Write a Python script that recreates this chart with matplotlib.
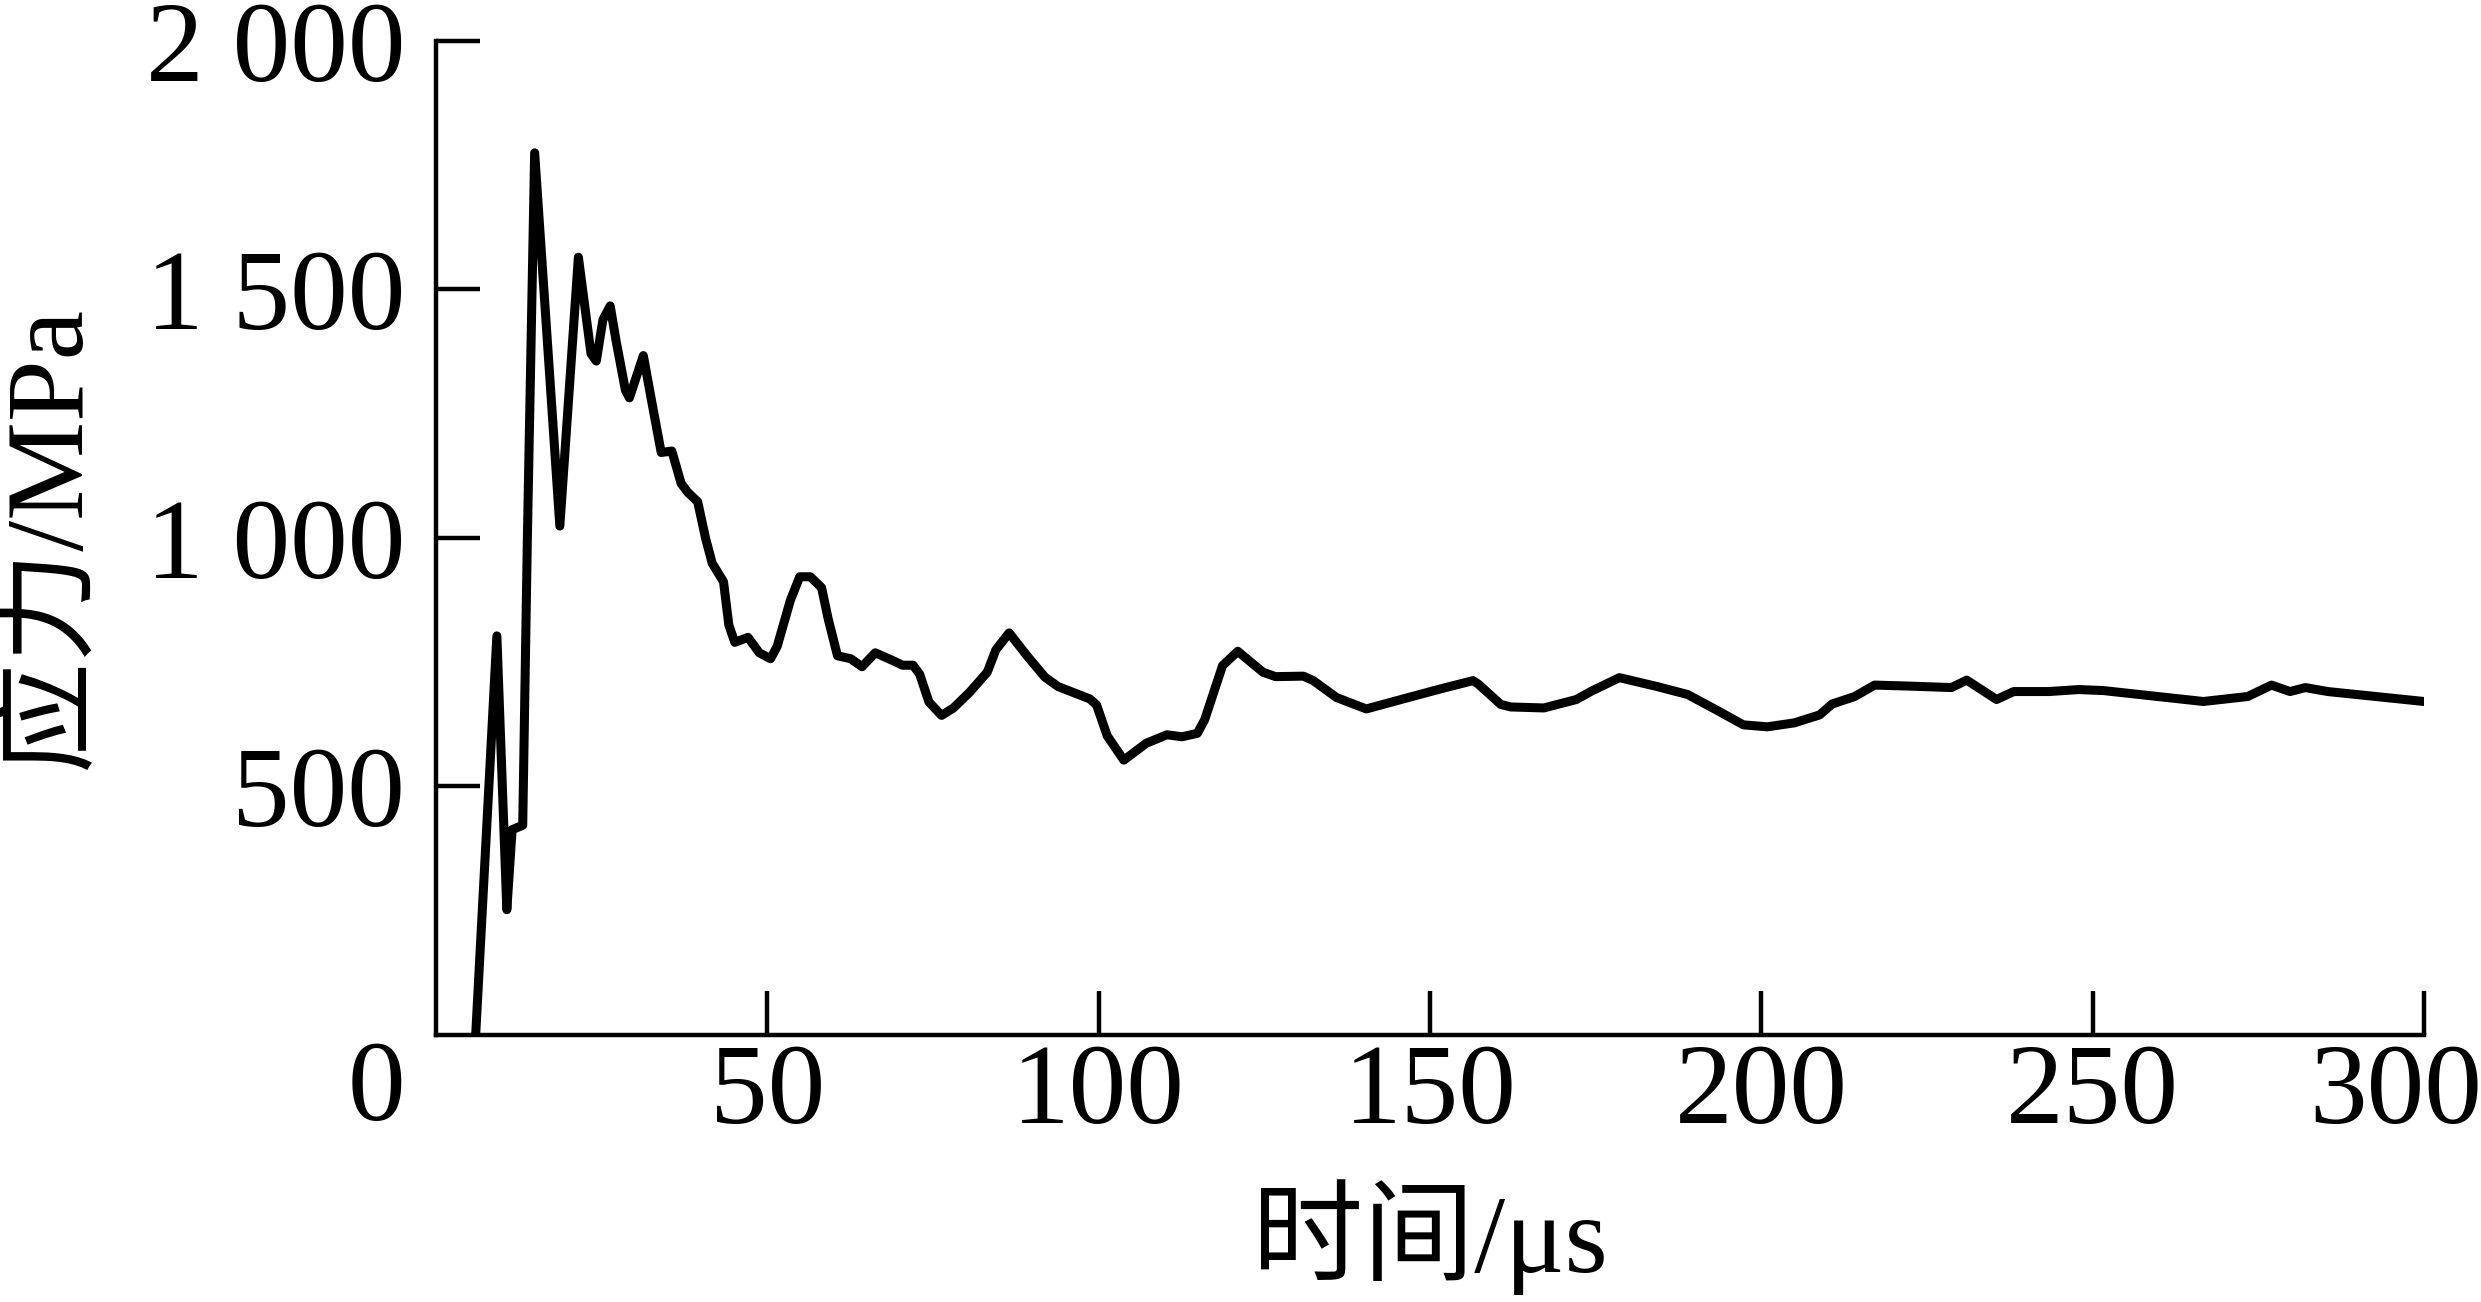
import numpy as np
import matplotlib.pyplot as plt
from matplotlib.transforms import ScaledTranslation

plt.rcParams['font.family'] = ['Liberation Serif', 'Noto Sans CJK SC']

# time (us) and stress (MPa)
time_us = [6.0, 9.2, 10.7, 11.5, 13.1, 13.8, 14.9, 18.7, 21.5, 23.4, 24.2, 25.2,
           26.3, 27.2, 28.6, 29.2, 31.3, 32.6, 34.0, 35.6, 37.0, 38.0, 39.5, 40.7,
           41.7, 43.4, 44.2, 45.1, 47.1, 48.8, 50.5, 51.5, 53.5, 54.9, 56.5, 58.2,
           59.2, 60.6, 62.6, 64.3, 66.3, 69.0, 70.4, 72.0, 73.0, 74.4, 76.3, 78.1,
           80.5, 83.2, 84.5, 86.5, 89.2, 91.9, 93.9, 98.7, 99.7, 101.3, 103.8, 107.2,
           110.3, 112.6, 114.9, 116.0, 118.7, 121.0, 124.8, 126.7, 130.9, 132.4, 135.9,
           140.4, 146.2, 151.5, 156.5, 157.3, 160.7, 162.2, 167.2, 172.1, 174.4, 178.6,
           184.3, 188.9, 193.5, 197.3, 200.9, 205.0, 208.8, 210.7, 214.1, 217.1, 222.3,
           228.7, 231.0, 235.5, 238.1, 243.4, 247.9, 251.6, 266.7, 273.4, 277.0, 279.8,
           282.1, 285.5, 300.0]
stress_mpa = [0, 803, 252, 413, 422, 999, 1775, 1024, 1565, 1371, 1356, 1439,
              1467, 1396, 1297, 1282, 1367, 1272, 1172, 1175, 1110, 1092, 1073, 999,
              949, 912, 825, 790, 800, 769, 757, 782, 875, 922, 922, 900,
              837, 763, 757, 741, 769, 753, 744, 744, 726, 670, 643, 658,
              689, 730, 775, 809, 763, 720, 701, 676, 664, 602, 553, 587,
              604, 600, 607, 634, 743, 772, 730, 721, 722, 713, 679,
              656, 677, 696, 713, 706, 665, 660, 658, 675, 692, 719,
              701, 685, 652, 624, 620, 628, 644, 666, 681, 704, 702,
              699, 714, 675, 691, 691, 695, 693, 671, 681, 704, 691,
              699, 691, 671]

x_ticks = [50, 100, 150, 200, 250, 300]
x_labels = ['50', '100', '150', '200', '250', '300']
y_ticks = [500, 1000, 1500, 2000]
y_labels = ['500', '1 000', '1 500', '2 000']

fig = plt.figure(figsize=(24.81, 13.02), dpi=100)
ax = fig.add_axes([0.1757, 0.2051, 0.8013, 0.7634])

ax.plot(time_us, stress_mpa, color='black', lw=6.5,
        solid_joinstyle='round', solid_capstyle='round')

ax.set_xlim(0, 300)
ax.set_ylim(0, 2000)
ax.set_xticks(x_ticks, x_labels)
ax.set_yticks(y_ticks, y_labels)

for side in ['top', 'right']:
    ax.spines[side].set_visible(False)
for side in ['left', 'bottom']:
    ax.spines[side].set_linewidth(3.2)

ax.tick_params(direction='in', length=32, width=3.2, labelsize=83)
ax.tick_params(axis='x', pad=6)
ax.tick_params(axis='y', pad=22)

# last x label is pulled left so it stays inside the figure
last = ax.get_xticklabels()[-1]
last.set_transform(last.get_transform() + ScaledTranslation(-0.28, 0, fig.dpi_scale_trans))

ax.annotate('0', xy=(0, 0), xycoords='axes fraction', xytext=(-42.5, -41),
            textcoords='offset points', ha='center', va='center', fontsize=83)

ax.set_xlabel('时间/μs', fontsize=80)
ax.set_ylabel('应力/MPa', fontsize=80)
ax.xaxis.set_label_coords(0.5, -0.203)
ax.xaxis.label.set_va('center')
ax.yaxis.set_label_coords(-0.194, 0.5)
ax.yaxis.label.set_va('center')

fig.savefig('out.png', dpi=100)
